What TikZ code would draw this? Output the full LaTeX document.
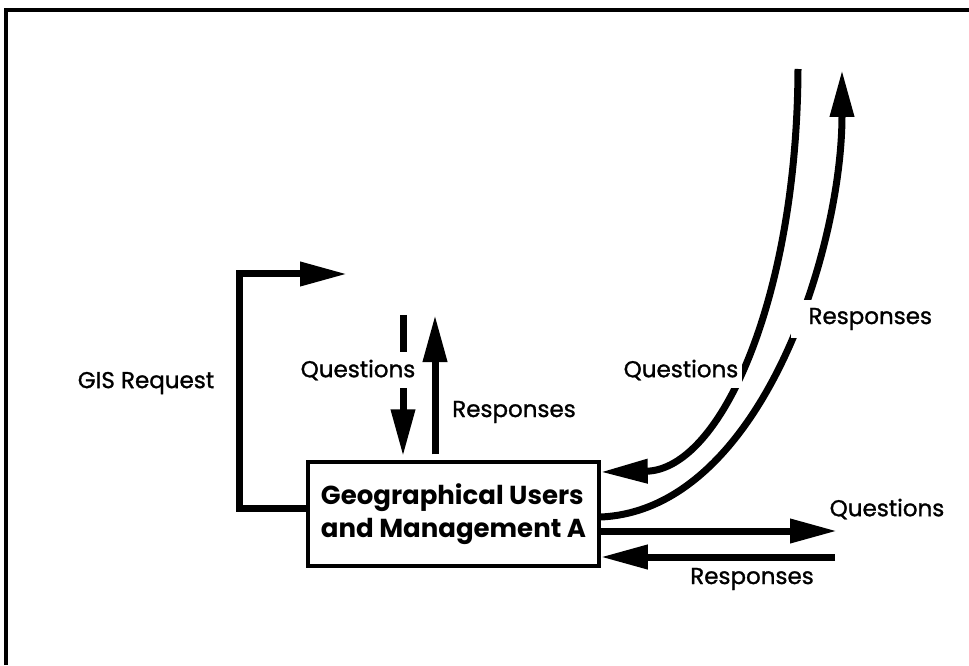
\documentclass[tikz,border=0pt]{standalone}
\usepackage{fontspec}
\setmainfont{Poppins}
\newfontfamily\labelfont{Poppins}[FakeBold=1.2]
\usetikzlibrary{arrows.meta}
\begin{document}
\begin{tikzpicture}[x=1pt,y=1pt,
  flow/.style={line width=7pt,-{Triangle[length=47pt,width=23pt]}},
  lbl/.style={font=\labelfont\fontsize{23}{25}\selectfont, inner sep=0pt},
  gaplbl/.style={lbl, fill=white, inner xsep=4pt, inner ysep=8pt},
  unitbox/.style={draw, line width=3.5pt, minimum width=291pt, minimum height=104pt,
    align=left, inner sep=0pt,
    font=\fontsize{26}{33}\selectfont\bfseries}]
  \useasboundingbox (0,0) rectangle (969,665);
  % page frame: left and top rules only
  \draw[line width=4pt] (6,0) -- (6,655) -- (969,655);

  % central unit
  \node[unitbox, anchor=center] (box) at (453.5,151)
    {Geographical Users\\and Management A};

  % free ends of the connectors
  \coordinate (gisend) at (347,391);
  \coordinate (qtop) at (403,350);
  \coordinate (rtop) at (435,350);
  \coordinate (qright) at (837,134);
  \coordinate (rright) at (835,108);
  \coordinate (qcurve) at (798,596);
  \coordinate (rcurve) at (842,595);

  % GIS request loop from the left side
  \draw[flow] ([yshift=6pt]box.west) -- (239,157) |- (gisend);
  \node[lbl] (gis) at (146,282) {GIS Request};

  % vertical pair above the box
  \draw[flow] (qtop) -- ([xshift=-50.5pt,yshift=4pt]box.north);
  \draw[flow] ([xshift=-18.5pt,yshift=6pt]box.north) -- (rtop);
  \node[gaplbl] (q1) at (358,295) {Questions};
  \node[lbl] (r1) at (514,253) {Responses};

  % horizontal pair to the right
  \draw[flow] ([yshift=-17pt]box.east) -- (qright);
  \draw[flow] (rright) -- ([yshift=-43pt]box.east);
  \node[lbl] (q3) at (887,156) {Questions};
  \node[lbl] (r3) at (752,86) {Responses};

  % curved pair sweeping up to the top
  \draw[flow] (qcurve) .. controls (797,365) and (720,195) .. ([yshift=42pt]box.east);
  \draw[flow] ([yshift=-3pt]box.east) .. controls (760,155) and (842,415) .. (rcurve);
  \node[gaplbl] (q2) at (681,295) {Questions};
  \node[gaplbl, text width=138pt, align=right, inner xsep=3pt] (r2) at (863,346) {Responses};
\end{tikzpicture}
\end{document}
